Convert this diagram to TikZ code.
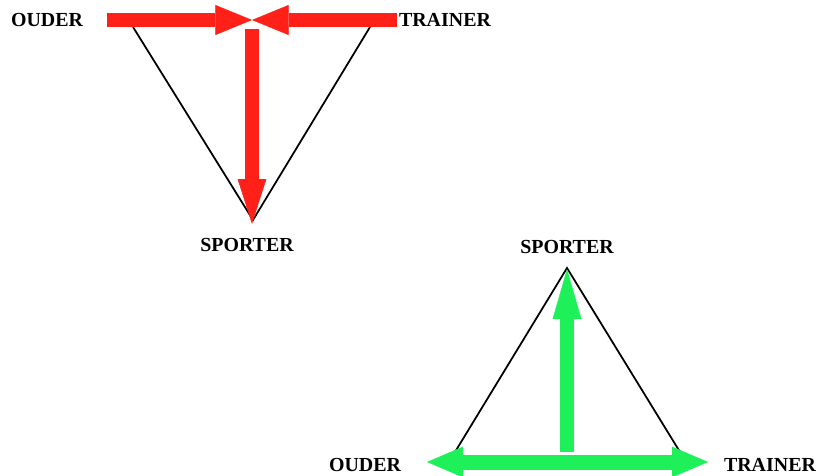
\documentclass[tikz,border=0pt]{standalone}
\usepackage{fontspec}
\setmainfont{Liberation Serif}
\usepackage{tikz}
\usetikzlibrary{arrows.meta, positioning}

\definecolor{fatred}{RGB}{255,32,24}
\definecolor{fatgreen}{RGB}{30,240,90}

\begin{document}
\begin{tikzpicture}[
  x=0.03cm, y=-0.03cm,
  lbl/.style={font=\fontsize{17}{20}\selectfont\bfseries, inner sep=1pt},
  side/.style={draw=black, line width=1.5pt},
  redarrow/.style={draw=fatred, line width=0.4cm,
    -{Triangle[length=1.1cm, width=0.9cm, line width=0.4pt]}},
  redlong/.style={draw=fatred, line width=0.4cm,
    -{Triangle[length=1.35cm, width=0.86cm, line width=0.4pt]}},
  greenarrow/.style={draw=fatgreen, line width=0.45cm,
    -{Triangle[length=1.08cm, width=0.92cm, line width=0.4pt]}},
  greenlong/.style={draw=fatgreen, line width=0.4cm,
    -{Triangle[length=1.5cm, width=0.86cm, line width=0.4pt]}}
]
\useasboundingbox (0,0) rectangle (816,475);

%% -- top triangle (red) --
\node[lbl] (ouderT)   at (47,20)  {OUDER};
\node[lbl] (trainerT) at (445,20) {TRAINER};
\node[lbl] (sporterT) at (247,245) {SPORTER};

\coordinate (tl) at (133,27);
\coordinate (tr) at (370,27);
\coordinate (tb) at (253,220);
\draw[side] (tl) -- (tb) -- (tr);

\coordinate (redL) at (107,20);
\coordinate (redR) at (397,20);
\coordinate (redM) at (252,20);
\coordinate (redTop) at (252,29);
\coordinate (redTip) at (252,224);
\draw[redarrow] (redL) -- (redM);
\draw[redarrow] (redR) -- (redM);
\draw[redlong] (redTop) -- (redTip);

%% -- bottom triangle (green) --
\node[lbl] (sporterB) at (567,247) {SPORTER};
\node[lbl] (ouderB)   at (365,465) {OUDER};
\node[lbl] (trainerB) at (770,465) {TRAINER};

\coordinate (bl) at (455,452);
\coordinate (br) at (680,452);
\coordinate (bt) at (567,268);
\draw[side] (bl) -- (bt) -- (br);

\coordinate (grM) at (567,462);
\coordinate (grL) at (427,462);
\coordinate (grR) at (708,462);
\coordinate (grBot) at (567,452);
\coordinate (grTip) at (567,269);
\draw[greenarrow] (grM) -- (grL);
\draw[greenarrow] (grM) -- (grR);
\draw[greenlong] (grBot) -- (grTip);

\end{tikzpicture}
\end{document}
